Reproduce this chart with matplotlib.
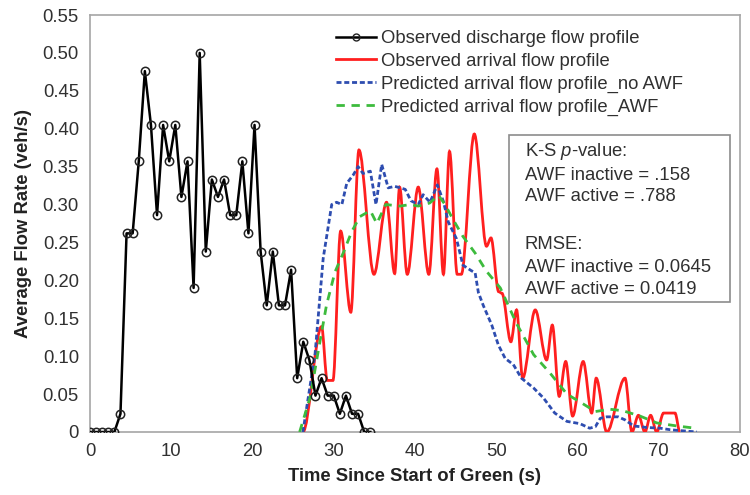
import matplotlib
matplotlib.use("Agg")
import matplotlib.pyplot as plt
from matplotlib.path import Path
from matplotlib.patches import PathPatch, Rectangle
from matplotlib.lines import Line2D

# ---------------- data ----------------
discharge_t = [0.0, 0.75, 1.5, 2.25, 3.0, 3.75, 4.5, 5.25, 6.0, 6.75, 7.5, 8.25, 9.0, 9.75,
               10.5, 11.25, 12.0, 12.75, 13.5, 14.25, 15.0, 15.75, 16.5, 17.25, 18.0, 18.75,
               19.5, 20.25, 21.0, 21.75, 22.5, 23.25, 24.0, 24.75, 25.5, 26.25, 27.0, 27.75,
               28.5, 29.25, 30.0, 30.75, 31.5, 32.25, 33.0, 33.75, 34.5]
discharge_v = [0, 0, 0, 0, 0, 0.024, 0.262, 0.262, 0.357, 0.476, 0.405, 0.286, 0.405, 0.357,
               0.405, 0.310, 0.357, 0.190, 0.500, 0.238, 0.333, 0.310, 0.333, 0.286, 0.286, 0.357,
               0.262, 0.405, 0.238, 0.167, 0.238, 0.167, 0.167, 0.214, 0.071, 0.119, 0.095, 0.048,
               0.071, 0.048, 0.048, 0.024, 0.048, 0.024, 0.024, 0, 0]

# observed arrival profile (turning points of the smoothed curve)
arrival_t = [26.2, 28.5, 29.2, 29.9, 30.85, 32.1, 33.1, 34.95, 36.5, 37.5, 38.1, 39.05, 40.4,
             41.7, 42.7, 43.5, 44.25, 45.2, 45.7, 47.3, 48.8, 49.35, 50.3, 50.7, 51.8, 52.5,
             53.25, 54.8, 56.2, 56.9, 57.75, 58.55, 59.4, 60.7, 61.75, 62.3, 63.6, 65.85, 66.7,
             67.5, 68.3, 69.0, 69.75, 70.6, 72.0, 72.6]
arrival_v = [0.0, 0.139, 0.068, 0.068, 0.265, 0.158, 0.372, 0.208, 0.303, 0.209, 0.323, 0.208,
             0.323, 0.208, 0.347, 0.208, 0.370, 0.208, 0.208, 0.393, 0.245, 0.256, 0.185, 0.183,
             0.119, 0.161, 0.071, 0.161, 0.095, 0.141, 0.047, 0.093, 0.021, 0.093, 0.025, 0.071,
             0.0, 0.071, 0.0, 0.022, 0.0, 0.022, 0.0, 0.025, 0.025, 0.0]

pred_noawf_t = [26.2, 27.7, 28.7, 29.75, 30.35, 31.0, 31.6, 32.4, 33.0, 33.6, 34.5, 35.2, 35.9,
                36.7, 37.5, 38.2, 38.8, 39.5, 40.4, 41.0, 41.85, 42.75, 43.5, 44.1, 45.1, 45.9,
                46.9, 47.4, 47.8, 48.4, 49.45, 50.25, 51.1, 52.1, 53.1, 54.6, 55.8, 57.2, 58.7,
                60.3, 61.5, 62.2, 62.8, 63.6, 65.0, 65.85, 66.9, 68.5, 70.2, 71.4, 74.7]
pred_noawf_v = [0.0, 0.103, 0.229, 0.300, 0.303, 0.300, 0.328, 0.339, 0.350, 0.341, 0.344, 0.300,
                0.353, 0.322, 0.324, 0.322, 0.320, 0.305, 0.300, 0.313, 0.303, 0.326, 0.304, 0.277,
                0.255, 0.220, 0.213, 0.210, 0.184, 0.167, 0.141, 0.115, 0.097, 0.089, 0.071, 0.058,
                0.045, 0.025, 0.014, 0.011, 0.005, 0.007, 0.018, 0.020, 0.020, 0.016, 0.008, 0.006,
                0.005, 0.003, 0.0]

pred_awf_t = [25.8, 27.1, 28.1, 29.1, 30.15, 31.2, 32.2, 33.2, 34.5, 35.3, 36.4, 38.2, 39.4, 40.4,
              41.8, 42.9, 43.7, 44.7, 45.9, 47.4, 48.8, 50.5, 52.5, 54.6, 56.6, 58.7, 60.7, 62.2,
              64.0, 65.6, 67.7, 69.75, 72.2, 74.5]
pred_awf_v = [0.0, 0.046, 0.107, 0.167, 0.211, 0.237, 0.264, 0.284, 0.292, 0.275, 0.300, 0.298,
              0.300, 0.298, 0.302, 0.312, 0.300, 0.280, 0.258, 0.236, 0.212, 0.190, 0.143, 0.102,
              0.078, 0.050, 0.037, 0.027, 0.030, 0.028, 0.021, 0.012, 0.008, 0.005]

labels = ["Observed discharge flow profile", "Observed arrival flow profile",
          "Predicted arrival flow profile_no AWF", "Predicted arrival flow profile_AWF"]
x_ticks = [0, 10, 20, 30, 40, 50, 60, 70, 80]
y_ticks = [0, 0.05, 0.10, 0.15, 0.20, 0.25, 0.30, 0.35, 0.40, 0.45, 0.50, 0.55]
y_ticklabels = ["0", "0.05", "0.10", "0.15", "0.20", "0.25", "0.30", "0.35", "0.40", "0.45",
                "0.50", "0.55"]
box_lines = ["K-S $\\mathit{p}$-value:", "AWF inactive = .158", "AWF active = .788", "",
             "RMSE:", "AWF inactive = 0.0645", "AWF active = 0.0419"]

# ---------------- style ----------------
plt.rcParams['font.family'] = ['Liberation Sans', 'DejaVu Sans']
plt.rcParams['mathtext.fontset'] = 'custom'
plt.rcParams['mathtext.it'] = 'Liberation Sans:italic'
plt.rcParams['mathtext.rm'] = 'Liberation Sans'
FS = 13.3
C_RED = '#FF1F1F'
C_BLUE = '#2E4DB0'
C_GREEN = '#3DBB3D'
C_TXT = '#303030'

fig = plt.figure(figsize=(7.5, 4.95), dpi=100)
ax = fig.add_axes([90 / 750, 1 - 432 / 495, 650 / 750, 417 / 495])

# discharge (black with open circles)
ax.plot(discharge_t, discharge_v, color='black', lw=1.8, marker='o', ms=6,
        mfc='none', mec='#222222', mew=1.1, zorder=5)

# observed arrival: smooth cubic Bezier through turning points (horizontal tangents)
verts = [(arrival_t[0], arrival_v[0])]
codes = [Path.MOVETO]
for i in range(len(arrival_t) - 1):
    dx = arrival_t[i + 1] - arrival_t[i]
    verts += [(arrival_t[i] + dx / 3, arrival_v[i]),
              (arrival_t[i + 1] - dx / 3, arrival_v[i + 1]),
              (arrival_t[i + 1], arrival_v[i + 1])]
    codes += [Path.CURVE4] * 3
ax.add_patch(PathPatch(Path(verts, codes), fill=False, edgecolor=C_RED, lw=2.0, zorder=3))

ax.plot(pred_noawf_t, pred_noawf_v, color=C_BLUE, lw=2.0, dashes=(1.8, 1.0), zorder=4)
ax.plot(pred_awf_t, pred_awf_v, color=C_GREEN, lw=2.0, dashes=(3.0, 2.4), zorder=4)

ax.set_xlim(x_ticks[0], x_ticks[-1])
ax.set_ylim(y_ticks[0], y_ticks[-1])
ax.set_xticks(x_ticks)
ax.set_yticks(y_ticks)
ax.set_yticklabels(y_ticklabels)
ax.tick_params(length=0, labelsize=FS, colors=C_TXT, pad=8)
for s in ax.spines.values():
    s.set_color('#A6A6A6')
    s.set_linewidth(1.2)

ax.set_xlabel("Time Since Start of Green (s)", fontsize=FS, fontweight='bold',
              color='#222222', labelpad=6)
ax.set_ylabel("Average Flow Rate (veh/s)", fontsize=FS, fontweight='bold',
              color='#222222', labelpad=8)

handles = [
    Line2D([], [], color='black', lw=1.8, marker='o', ms=5, mfc='none', mec='#222222'),
    Line2D([], [], color=C_RED, lw=2.0),
    Line2D([], [], color=C_BLUE, lw=2.0, dashes=(1.8, 1.0)),
    Line2D([], [], color=C_GREEN, lw=2.0, dashes=(3.0, 2.4)),
]
leg = ax.legend(handles, labels, loc='upper left', bbox_to_anchor=(0.378, 0.964),
                frameon=False, fontsize=FS, handlelength=2.2, handletextpad=0.25,
                labelspacing=0.31, borderpad=0, borderaxespad=0, markerscale=1)
for t in leg.get_texts():
    t.set_color(C_TXT)

# statistics box
bx0 = (509 - 90) / 650
bx1 = (730 - 90) / 650
by0 = (432 - 302) / 417
by1 = (432 - 135) / 417
ax.add_patch(Rectangle((bx0, by0), bx1 - bx0, by1 - by0, transform=ax.transAxes,
                       fill=True, facecolor='white', edgecolor='#8C8C8C', lw=1.2, zorder=6))
line_px = [152, 175, 197, 221, 245, 268, 290]
for txt, py in zip(box_lines, line_px):
    if txt:
        ax.text((525 - 90) / 650, (432 - py) / 417, txt, transform=ax.transAxes,
                fontsize=FS, color=C_TXT, va='center', ha='left', zorder=7)

fig.savefig("out.png", dpi=100)
